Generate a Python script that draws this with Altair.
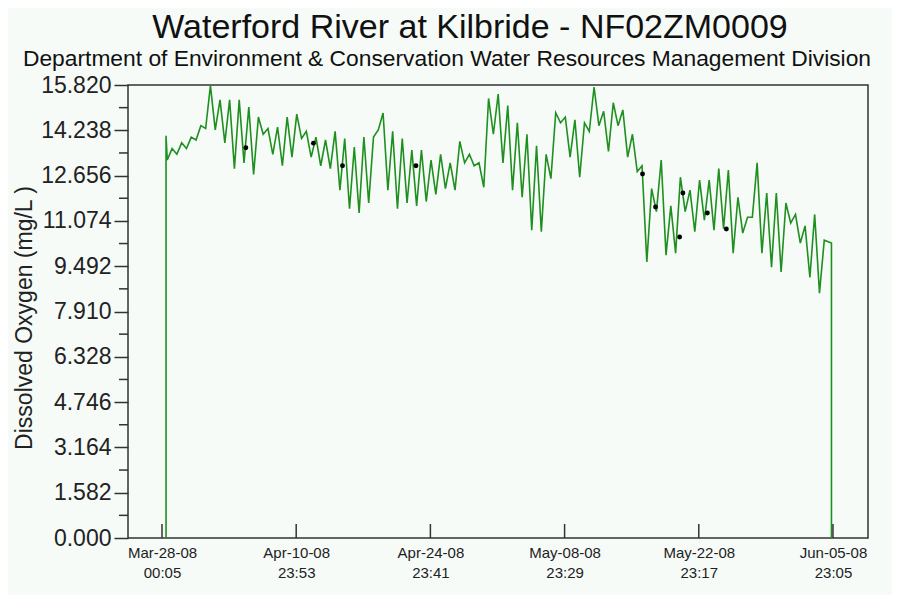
import altair as alt
import pandas as pd

# ---------------- data ----------------
title_text = "Waterford River at Kilbride - NF02ZM0009"
subtitle_text = "Department of Environment & Conservation Water Resources Management Division"
y_title = "Dissolved Oxygen  (mg/L )"

start_time = "2008-03-28 00:05"
first_reading = 14.05
last_reading = 10.3

# daily minimum / maximum of dissolved oxygen (mg/L), Mar-28 .. Jun-05
day_low = [13.2, 13.4, 13.6, 13.9, 14.3, 14.25, 13.8, 12.9, 13.1, 12.7,
           14.1, 13.4, 13.0, 13.3, 13.95, 13.3, 13.0, 12.9, 12.15, 11.5,
           11.35, 11.7, 14.25, 12.15, 11.5, 11.7, 11.6, 11.75, 12.0, 12.2,
           12.15, 13.1, 13.0, 12.25, 14.1, 13.1, 12.15, 11.9, 10.75, 10.7,
           12.55, 14.5, 13.3, 12.6, 14.2, 14.4, 13.5, 14.4, 13.3, 12.8,
           9.64, 11.4, 9.88, 9.95, 11.4, 10.7, 11.1, 10.75, 10.8, 9.95,
           10.65, 11.2, 9.95, 9.46, 9.29, 11.0, 10.3, 9.1, 8.55]
day_high = [13.6, 13.8, 14.0, 14.4, 15.8, 15.3, 15.3, 15.3, 15.05, 14.7,
            14.3, 14.35, 14.7, 14.8, 14.2, 14.0, 13.9, 14.2, 13.95, 13.65,
            14.0, 14.0, 14.84, 14.2, 13.95, 13.55, 13.55, 13.2, 13.4, 13.1,
            13.85, 13.4, 13.1, 15.35, 15.5, 15.1, 14.5, 14.1, 13.7, 13.4,
            14.85, 14.7, 14.6, 14.5, 15.75, 14.9, 15.2, 14.95, 14.1, 13.0,
            12.2, 13.2, 11.6, 12.6, 12.15, 12.5, 12.5, 12.9, 12.85, 11.9,
            11.2, 13.1, 12.05, 12.05, 11.7, 11.3, 10.9, 11.3, 10.4]

flag_times = ["2008-04-05T17:50:00", "2008-04-12T19:00:00", "2008-04-15T19:45:00",
              "2008-04-23T11:35:00", "2008-05-17T02:30:00", "2008-05-18T11:05:00",
              "2008-05-20T23:20:00", "2008-05-21T07:30:00", "2008-05-23T20:45:00",
              "2008-05-25T20:15:00"]
flag_values = [13.63, 13.79, 13.0, 13.0, 12.71, 11.56, 10.51, 12.05, 11.35, 10.79]

y_ticks = [0.000, 1.582, 3.164, 4.746, 6.328, 7.910, 9.492, 11.074, 12.656, 14.238, 15.820]
x_ticks = ["2008-03-28T00:05:00", "2008-04-10T23:53:00", "2008-04-24T23:41:00",
           "2008-05-08T23:29:00", "2008-05-22T23:17:00", "2008-06-05T23:05:00"]
x_domain = ["2008-03-24T11:00:00", "2008-06-09T14:43:00"]

# ---------------- build tables ----------------
t0 = pd.Timestamp(start_time)
times, vals = [], []
times.append(t0 + pd.Timedelta(days=0.42)); vals.append(0.0)
times.append(t0 + pd.Timedelta(days=0.42)); vals.append(first_reading)
for d, (lo, hi) in enumerate(zip(day_low, day_high)):
    times.append(t0 + pd.Timedelta(days=d + 0.55)); vals.append(lo)
    times.append(t0 + pd.Timedelta(days=d + 1.05)); vals.append(hi)
times.append(t0 + pd.Timedelta(days=69.8)); vals.append(last_reading)
times.append(t0 + pd.Timedelta(days=69.8)); vals.append(0.0)

series = pd.DataFrame({
    "t": [x.strftime("%Y-%m-%dT%H:%M:%S") for x in times],
    "v": vals,
    "i": list(range(len(vals))),
})
flags = pd.DataFrame({"t": flag_times, "v": flag_values})
xt = pd.DataFrame({"t": x_ticks})
minor = pd.DataFrame({"v": [(a + b) / 2 for a, b in zip(y_ticks[:-1], y_ticks[1:])]})


def dt(s):
    p = pd.Timestamp(s)
    return alt.DateTime(year=p.year, month=p.month, date=p.day, hours=p.hour, minutes=p.minute)


W, H = 740, 453
FONT = "Liberation Sans"
x_scale = alt.Scale(domain=[dt(s) for s in x_domain])
y_scale = alt.Scale(domain=[0, 15.82], nice=False, zero=True)

x_axis = alt.Axis(
    values=[dt(s) for s in x_ticks],
    labelExpr="[timeFormat(datum.value, '%b-%d-%y'), timeFormat(datum.value, '%H:%M')]",
    ticks=False, tickSize=0, domain=False, grid=False, title=None,
    labelFontSize=15, labelLineHeight=20, labelPadding=7, labelColor="#222",
    labelFont=FONT, labelFlush=False, labelBaseline="top",
)
y_axis = alt.Axis(
    values=y_ticks, format=".3f", tickSize=14, tickWidth=1.5, tickColor="#333",
    labelFontSize=23, labelPadding=3, labelColor="#222", labelFont=FONT,
    domain=False, grid=False, title=y_title, titleFontSize=23, titleFont=FONT,
    titleFontWeight="normal", titleColor="#222", titleX=-104, titleY=H / 2 + 6,
    titleAlign="center", titleBaseline="middle", titleAngle=270,
)

line = alt.Chart(series).mark_line(color="#1f8f1f", strokeWidth=1.6).encode(
    x=alt.X("t:T", scale=x_scale, axis=x_axis),
    y=alt.Y("v:Q", scale=y_scale, axis=y_axis),
    order=alt.Order("i:Q"),
)
dots = alt.Chart(flags).mark_circle(color="black", size=24, opacity=1).encode(
    x="t:T", y="v:Q"
)
xticks = alt.Chart(xt).mark_rule(color="#333", strokeWidth=1.5).encode(
    x="t:T", y=alt.value(H - 14), y2=alt.value(H)
)
yminor = alt.Chart(minor).mark_rule(color="#333", strokeWidth=1.5).encode(
    y="v:Q", x=alt.value(-9), x2=alt.value(0)
)
title = alt.Chart(pd.DataFrame({"s": [title_text]})).mark_text(
    font=FONT, fontSize=34, color="#111", align="center", baseline="alphabetic"
).encode(text="s:N", x=alt.value(342), y=alt.value(-47))
subtitle = alt.Chart(pd.DataFrame({"s": [subtitle_text]})).mark_text(
    font=FONT, fontSize=22.8, color="#111", align="center", baseline="alphabetic"
).encode(text="s:N", x=alt.value(319), y=alt.value(-19))

chart = alt.layer(line, dots, xticks, yminor, title, subtitle).properties(
    width=W, height=H,
    autosize=alt.AutoSizeParams(type="none"),
    padding={"left": 120, "top": 77, "right": 24, "bottom": 57},
    background="#f6fbf8",
).configure_view(stroke="#333", strokeWidth=1.5)

chart.save("out.html", embed_options={"renderer": "svg", "actions": False})
